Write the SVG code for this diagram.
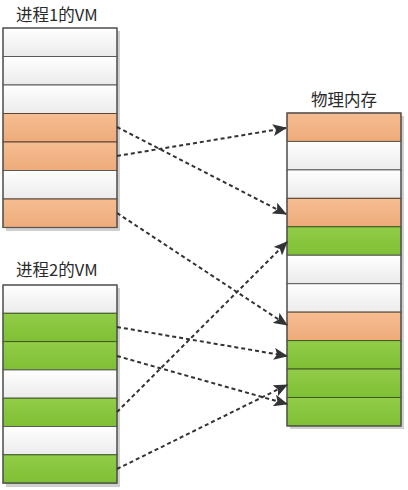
<svg xmlns="http://www.w3.org/2000/svg" width="408" height="490" viewBox="0 0 408 490">
<defs>
<linearGradient id="gW" x1="0" y1="0" x2="0" y2="1"><stop offset="0" stop-color="#ffffff"/><stop offset="1" stop-color="#ebebeb"/></linearGradient>
<linearGradient id="gO" x1="0" y1="0" x2="0" y2="1"><stop offset="0" stop-color="#f5bd92"/><stop offset="1" stop-color="#eeab7a"/></linearGradient>
<linearGradient id="gG" x1="0" y1="0" x2="0" y2="1"><stop offset="0" stop-color="#92cc48"/><stop offset="1" stop-color="#7fbf35"/></linearGradient>
<marker id="ah" markerWidth="14" markerHeight="12" refX="13" refY="6" orient="auto" markerUnits="userSpaceOnUse"><path d="M0,0 L14,6 L0,12 L3,6 Z" fill="#333"/></marker>
</defs>
<style>
.t{font-family:"Noto Sans CJK SC","Noto Sans",sans-serif;font-size:16.5px;fill:#2a2a2a}
.sh{fill:#cfcfcf}
.w{fill:url(#gW);stroke:#5a5a5a;stroke-width:1}
.o{fill:url(#gO);stroke:#5a4535;stroke-width:1}
.g{fill:url(#gG);stroke:#3f5a25;stroke-width:1}
.frame{fill:none;stroke:#555;stroke-width:1.2}
.c{fill:none;stroke:#333;stroke-width:2;stroke-dasharray:4,3;marker-end:url(#ah)}
</style>
<rect width="408" height="490" fill="#fff"/>

<g id="vm1">
<text class="t" x="16" y="21">进程1的VM</text>
<rect class="sh" x="6" y="31" width="114" height="200"/>
<rect class="w" x="3" y="28" width="114" height="28.5"/>
<rect class="w" x="3" y="56.5" width="114" height="28.5"/>
<rect class="w" x="3" y="85" width="114" height="28.5"/>
<rect class="o" x="3" y="113.5" width="114" height="28.5"/>
<rect class="o" x="3" y="142" width="114" height="28.5"/>
<rect class="w" x="3" y="170.5" width="114" height="28.5"/>
<rect class="o" x="3" y="199" width="114" height="28.5"/>
<rect class="frame" x="3" y="28" width="114" height="199.5"/>
</g>

<g id="vm2">
<text class="t" x="16" y="276">进程2的VM</text>
<rect class="sh" x="6" y="288" width="114" height="199"/>
<rect class="w" x="3" y="285" width="114" height="28.3"/>
<rect class="g" x="3" y="313.3" width="114" height="28.3"/>
<rect class="g" x="3" y="341.6" width="114" height="28.3"/>
<rect class="w" x="3" y="369.9" width="114" height="28.3"/>
<rect class="g" x="3" y="398.2" width="114" height="28.3"/>
<rect class="w" x="3" y="426.5" width="114" height="28.3"/>
<rect class="g" x="3" y="454.8" width="114" height="28.3"/>
<rect class="frame" x="3" y="285" width="114" height="198.1"/>
</g>

<g id="phys">
<text class="t" x="344" y="106" text-anchor="middle">物理内存</text>
<rect class="sh" x="290" y="116" width="114" height="313"/>
<rect class="o" x="287" y="113" width="114" height="28.45"/>
<rect class="w" x="287" y="141.45" width="114" height="28.45"/>
<rect class="w" x="287" y="169.9" width="114" height="28.45"/>
<rect class="o" x="287" y="198.35" width="114" height="28.45"/>
<rect class="g" x="287" y="226.8" width="114" height="28.45"/>
<rect class="w" x="287" y="255.25" width="114" height="28.45"/>
<rect class="w" x="287" y="283.7" width="114" height="28.45"/>
<rect class="o" x="287" y="312.15" width="114" height="28.45"/>
<rect class="g" x="287" y="340.6" width="114" height="28.45"/>
<rect class="g" x="287" y="369.05" width="114" height="28.45"/>
<rect class="g" x="287" y="397.5" width="114" height="28.45"/>
<rect class="frame" x="287" y="113" width="114" height="312.95"/>
</g>

<g id="connectors">
<line class="c" x1="117" y1="127" x2="286" y2="214"/>
<line class="c" x1="117" y1="156" x2="286" y2="128"/>
<line class="c" x1="117" y1="213" x2="287" y2="325"/>
<line class="c" x1="117" y1="327" x2="287" y2="356"/>
<line class="c" x1="117" y1="356" x2="287" y2="404"/>
<line class="c" x1="117" y1="412" x2="287" y2="242"/>
<line class="c" x1="117" y1="469" x2="287" y2="385"/>
</g>
</svg>
